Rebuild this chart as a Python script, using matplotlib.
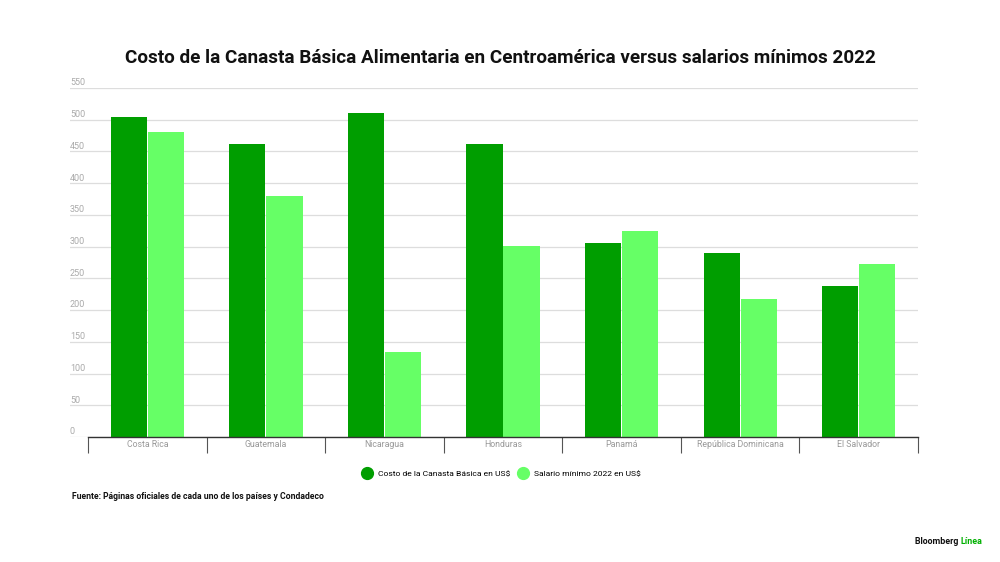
import matplotlib.pyplot as plt
import matplotlib.transforms as mtransforms
from matplotlib.lines import Line2D
import numpy as np

plt.rcParams['font.family'] = ['Roboto', 'DejaVu Sans']

paises = ['Costa Rica', 'Guatemala', 'Nicaragua', 'Honduras', 'Panamá',
          'República Dominicana', 'El Salvador']
canasta = [504, 461, 510, 462, 306, 290, 238]
salario = [480, 380, 134, 301, 325, 217, 272]
yticks = [0, 50, 100, 150, 200, 250, 300, 350, 400, 450, 500, 550]

verde_oscuro = '#009E00'
verde_claro = '#66FF66'

fig = plt.figure(figsize=(10, 5.62), dpi=100)
ax = fig.add_axes([0.07, 0.2224, 0.848, 0.621])

x = np.arange(len(paises))
w = 0.305
ax.bar(x - w / 2 - 0.004, canasta, width=w, color=verde_oscuro, zorder=3)
ax.bar(x + w / 2 + 0.004, salario, width=w, color=verde_claro, zorder=3)

ax.set_xlim(-0.5 - 0.152, 6.5)
ax.set_ylim(0, 550)
for s in ax.spines.values():
    s.set_visible(False)
ax.set_xticks([])
ax.set_yticks(yticks)
ax.set_yticklabels([])
ax.tick_params(left=False)
ax.grid(axis='y', color='#dddddd', linewidth=0.9, zorder=0)

# etiquetas del eje y encima de las lineas
for v in yticks:
    ax.text(-0.652, v + 1, str(v), fontsize=6.5, color='#aaaaaa',
            ha='left', va='bottom')

# linea base y separadores de categoria
trans = mtransforms.blended_transform_factory(ax.transData, ax.transAxes)
ax.plot([-0.5, 6.5], [0, 0], color='#333333', linewidth=1, clip_on=False, zorder=4)
ax.vlines(np.arange(-0.5, 7, 1), -0.045, 0, transform=trans, color='#555555',
          linewidth=0.8, clip_on=False)
for i, p in enumerate(paises):
    ax.text(i, -0.022, p, transform=trans, fontsize=6.3, color='#999999',
            ha='center', va='center')

fig.text(0.5, 0.896, 'Costo de la Canasta Básica Alimentaria en Centroamérica versus salarios mínimos 2022',
         ha='center', va='center', fontsize=13.6, fontweight='bold', color='#111111')

handles = [Line2D([], [], marker='o', linestyle='', markersize=8.5, color=verde_oscuro),
           Line2D([], [], marker='o', linestyle='', markersize=8.5, color=verde_claro)]
fig.legend(handles, ['Costo de la Canasta Básica en US$', 'Salario mínimo 2022 en US$'],
           loc='center', bbox_to_anchor=(0.5, 0.157), ncol=2, frameon=False,
           fontsize=6.1, handletextpad=0.3, columnspacing=0.5)

fig.text(0.072, 0.116, 'Fuente: Páginas oficiales de cada uno de los países y Condadeco',
         fontsize=6.2, fontweight='bold', ha='left', va='center', color='#111111')

t = fig.text(0.915, 0.037, 'Bloomberg ', fontsize=6.4, fontweight='bold',
             ha='left', va='center', color='#111111')
fig.canvas.draw()
bb = t.get_window_extent()
fig.text(bb.x1 / 1000, 0.037, 'Línea', fontsize=6.4, fontweight='bold',
         ha='left', va='center', color='#00B000')

fig.savefig('out.png', dpi=100)
